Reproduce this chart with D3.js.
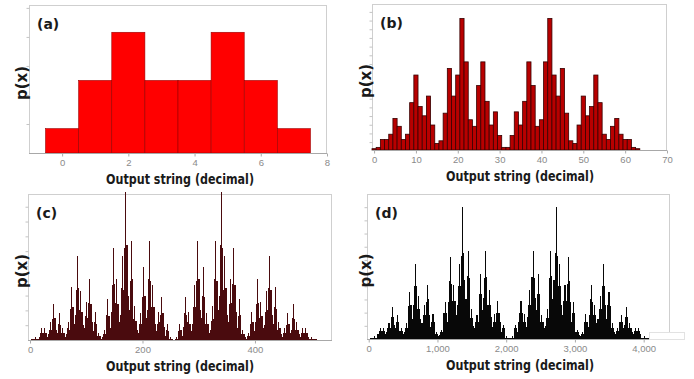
<!DOCTYPE html>
<html>
<head>
<meta charset="utf-8">
<script src="https://d3js.org/d3.v7.min.js"></script>
<style>
body { margin: 0; background: #fff; }
svg text { font-family: "DejaVu Sans", Verdana, sans-serif; }
.tick text { font-family: "Liberation Sans", Arial, sans-serif; font-size: 9.5px; fill: #8a8a8a; }
.tick line { stroke: #aaa; }
.yax .tick line { stroke: #c4c4c4; }
.frame { fill: none; stroke: #cfcfcf; stroke-width: 1; }
.base { stroke: #a8a8a8; stroke-width: 1; }
.title { font-weight: bold; font-size: 13.5px; fill: #1a1a1a; }
.ylab { font-weight: bold; font-size: 15px; fill: #1a1a1a; }
.tag { font-weight: bold; font-size: 14px; fill: #1a1a1a; }
</style>
</head>
<body>
<div id="chart"></div>
<script>
// (a) 3 bits, probabilities
var aVals = [0.042, 0.125, 0.208, 0.125, 0.125, 0.208, 0.125, 0.042];
var aTicks = [0, 2, 4, 6, 8];

// (b) 6 bits, relative heights (peak = 100)
var bVals = [1,2,8,8,12,24,18,8, 12,36,57,33,26,41,19,5, 7,28,62,41,57,100,67,23, 18,49,67,37,19,29,11,2,
             2,11,29,19,37,67,49,18, 23,67,100,57,41,62,28,7, 5,19,41,26,33,57,36,12, 8,18,24,12,8,8,2,1];
var bTicks = [0, 10, 20, 30, 40, 50, 60, 70];

// (c) 9 bits, read as tallest bar in each pair of outputs
var cVals = [
  0,1,1,1, 1,2,1,1, 2,5,8,5, 5,8,5,2, 4,7,12,7, 14,24,15,7, 5,11,18,10, 5,8,5,2,
  4,8,12,7, 21,36,22,11, 17,34,57,35, 20,33,19,10, 8,16,26,15, 25,41,24,12, 6,12,19,11, 3,5,3,1,
  2,4,7,4, 17,28,16,8, 19,37,62,38, 25,41,24,12, 17,35,57,34, 62,100,64,30, 20,40,67,41, 14,23,13,7,
  5,11,18,11, 29,49,30,15, 20,41,67,40, 22,37,22,11, 6,11,19,12, 17,29,18,9, 3,7,11,6, 1,2,1,0,
  0,1,2,1, 6,11,7,3, 9,18,29,17, 12,19,11,6, 11,22,37,22, 40,67,41,20, 15,30,49,29, 11,18,11,5,
  7,13,23,14, 41,67,40,20, 30,64,100,62, 34,57,35,17, 12,24,41,25, 38,62,37,19, 8,16,28,17, 4,7,4,2,
  1,3,5,3, 11,19,12,6, 12,24,41,25, 15,26,16,8, 10,19,33,20, 35,57,34,17, 11,22,36,21, 7,12,8,4,
  2,5,8,5, 10,18,11,5, 7,15,24,14, 7,12,7,4, 2,5,8,5, 5,8,5,2, 1,1,2,1, 1,1,1,0];
var cTicks = [0, 200, 400];

// (d) 12 bits, read as tallest bar in each run of 16 outputs
var dVals = [
  0,1,1,1, 1,2,1,1, 4,6,8,6, 6,8,6,4, 5,8,12,8, 17,24,17,11, 8,13,18,13, 6,8,6,4,
  5,8,12,8, 25,36,26,15, 26,40,57,40, 23,33,23,15, 12,18,26,18, 28,41,30,18, 9,13,19,13, 4,5,4,2,
  3,5,7,5, 20,28,20,13, 28,44,62,42, 29,41,29,18, 26,40,57,40, 63,100,65,45, 30,48,67,46, 16,23,16,10,
  8,13,18,13, 34,49,34,22, 31,46,67,47, 26,37,26,17, 9,13,19,13, 20,29,20,13, 5,8,11,8, 1,2,1,1,
  1,1,2,1, 8,11,8,5, 13,20,29,20, 13,19,13,9, 17,26,37,26, 47,67,46,31, 22,34,49,34, 13,18,13,8,
  10,16,23,16, 46,67,48,30, 45,65,100,63, 40,57,40,26, 18,29,41,29, 42,62,44,28, 13,20,28,20, 5,7,5,3,
  2,4,5,4, 13,19,13,9, 18,30,41,28, 18,26,18,12, 15,23,33,23, 40,57,40,26, 15,26,36,25, 8,12,8,5,
  4,6,8,6, 13,18,13,8, 11,17,24,17, 8,12,8,5, 4,6,8,6, 6,8,6,4, 1,1,2,1, 1,1,1,0];
var dTicks = [0, 1000, 2000, 3000, 4000];

var svg = d3.select("#chart").append("svg")
    .attr("width", 694)
    .attr("height", 379)
    .style("background", "#fff");

function panel(o) {
    var g = svg.append("g");
    var x = d3.scaleLinear().domain(o.xdom).range([o.left, o.right]);
    var y = d3.scaleLinear().domain([0, o.ymax]).range([o.bottom, o.top]);
    var w = o.bin;

    g.append("rect").attr("class", "frame")
        .attr("x", o.left + 0.5).attr("y", o.top + 0.5)
        .attr("width", o.right - o.left - 1).attr("height", o.bottom - o.top);

    // y ticks, no labels
    var ya = g.append("g").attr("class", "yax")
        .attr("transform", "translate(" + (o.left + 0.5) + ",0)")
        .call(d3.axisLeft(y).tickValues(o.yticks).tickSize(3).tickFormat(""));
    ya.select(".domain").remove();

    g.selectAll(".bar").data(o.vals).enter().append("rect")
        .attr("x", function(d, i) { return x(i * w - 0.5); })
        .attr("width", x(w) - x(0))
        .attr("y", function(d) { return y(d); })
        .attr("height", function(d) { return y(0) - y(d); })
        .attr("fill", o.fill)
        .attr("stroke", o.stroke || "none")
        .attr("stroke-width", o.sw || 0)
        .attr("shape-rendering", o.crisp ? "crispEdges" : null);

    g.append("line").attr("class", "base")
        .attr("x1", o.left).attr("x2", o.right)
        .attr("y1", o.bottom + 0.5).attr("y2", o.bottom + 0.5);

    var xa = g.append("g")
        .attr("transform", "translate(0," + (o.bottom + 0.5) + ")")
        .call(d3.axisBottom(x).tickValues(o.xticks).tickSize(3).tickPadding(3).tickFormat(o.fmt));
    xa.select(".domain").remove();

    g.append("text").attr("class", "title")
        .attr("x", o.tx).attr("y", o.bottom + 31)
        .attr("text-anchor", "middle")
        .attr("textLength", 148).attr("lengthAdjust", "spacingAndGlyphs")
        .text("Output string (decimal)");

    g.append("text").attr("class", "ylab")
        .attr("transform", "translate(" + o.lx + "," + ((o.top + o.bottom) / 2 + 4) + ") rotate(-90)")
        .attr("text-anchor", "middle")
        .text("p(x)");

    g.append("text").attr("class", "tag")
        .attr("x", o.left + 8).attr("y", o.top + 24)
        .text(o.tag);
    return g;
}

panel({vals: aVals, bin: 1, xdom: [-1, 8], left: 29, right: 327, top: 5, bottom: 153, ymax: 0.255,
       yticks: [0.05, 0.1, 0.15, 0.2, 0.25], xticks: aTicks, fmt: d3.format("d"),
       fill: "#ff0000", stroke: "#9a0000", sw: 0.6, tx: 180, lx: 27, tag: "(a)"});

panel({vals: bVals, bin: 1, xdom: [-0.5, 70], left: 372, right: 667, top: 4, bottom: 150, ymax: 111,
       yticks: d3.range(6, 111, 6.6), xticks: bTicks, fmt: d3.format("d"),
       fill: "#b80000", stroke: "#360000", sw: 0.8, tx: 520, lx: 371, tag: "(b)"});

// crisp edges so the sub-pixel bars do not leave light seams
panel({vals: cVals, bin: 2, xdom: [-3.6, 537], left: 28, right: 332, top: 194, bottom: 340, ymax: 98.6,
       yticks: d3.range(10, 98, 10), xticks: cTicks, fmt: d3.format("d"), crisp: true,
       fill: "#4a0b0e", tx: 180, lx: 27, tag: "(c)"});

var gd = panel({vals: dVals, bin: 16, xdom: [-25, 4383], left: 367, right: 670, top: 194, bottom: 339, ymax: 110,
       yticks: d3.range(10, 110, 10), xticks: dTicks, fmt: d3.format(","), crisp: true,
       fill: "#080808", tx: 520, lx: 371, tag: "(d)"});

// small white box sitting on the bottom right corner of (d)
gd.append("rect").attr("x", 649.5).attr("y", 332.5).attr("width", 35).attr("height", 7)
    .attr("fill", "#fff").attr("stroke", "#e2e2e2");
</script>
</body>
</html>
